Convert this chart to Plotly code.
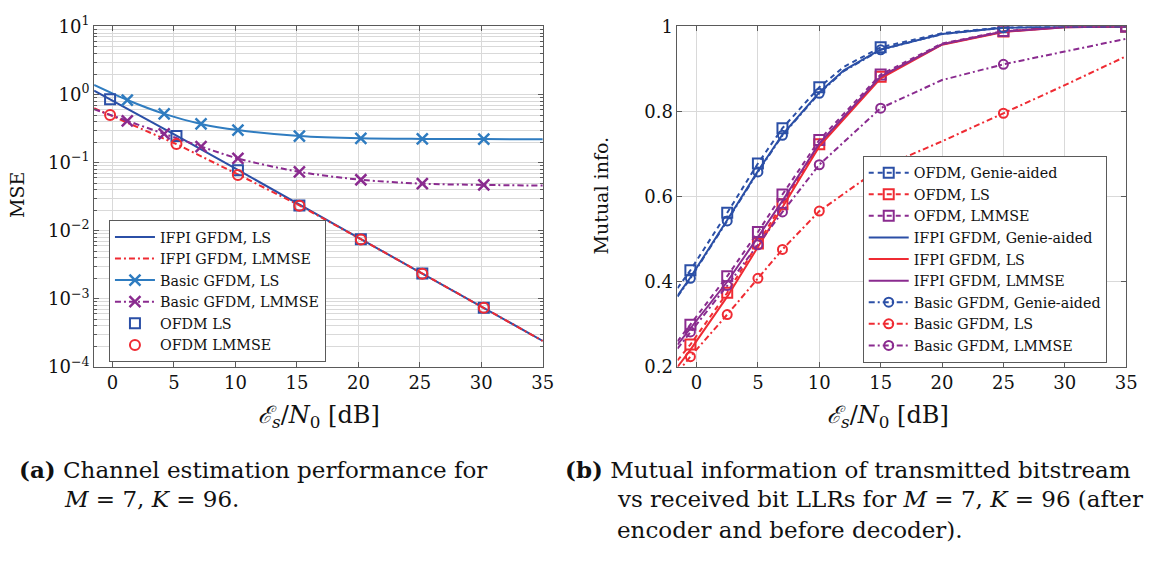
import plotly.graph_objects as go

W, H = 1157, 561
FONT = "DejaVu Serif"

BLUE = "#2b4fa6"
LBLUE = "#2f7cc0"
RED = "#ef2b33"
PURPLE = "#8a2b8f"
GRID = "#d9d9d9"
FRAME = "#5a5a5a"

DASH = "5px,4px"
DASHDOT = "6px,3px,2px,3px"

# ---------------- (a) channel estimation MSE ----------------
snr_a_ifpi = [-1.5, -0.2, 5.2, 10.2, 15.2, 20.2, 25.2, 30.2, 35]
mse_ifpi_ls = [1.14, 0.85, 0.25, 0.078, 0.024, 0.0075, 0.00235, 0.00074, 0.00024]
mse_ifpi_lmmse = [0.63, 0.50, 0.187, 0.067, 0.0235, 0.0075, 0.00235, 0.00074, 0.00024]

snr_a_basic = [-1.5, 1.2, 4.2, 7.2, 10.2, 15.2, 20.2, 25.2, 30.2, 35]
mse_basic_ls = [1.38, 0.83, 0.52, 0.37, 0.30, 0.245, 0.227, 0.223, 0.222, 0.22]
mse_basic_lmmse = [0.61, 0.41, 0.265, 0.172, 0.115, 0.073, 0.056, 0.049, 0.047, 0.046]
marks_a_basic = [1.2, 4.2, 7.2, 10.2, 15.2, 20.2, 25.2, 30.2]

snr_a_ofdm = [-0.2, 5.2, 10.2, 15.2, 20.2, 25.2, 30.2]
mse_ofdm_ls = [0.85, 0.245, 0.077, 0.0235, 0.0075, 0.00235, 0.00074]
mse_ofdm_lmmse = [0.50, 0.187, 0.066, 0.0232, 0.0074, 0.00234, 0.00074]

mse_ticks = [1e-4, 1e-3, 1e-2, 1e-1, 1, 10]
mse_ticktext = ["10<sup>−4</sup>", "10<sup>−3</sup>", "10<sup>−2</sup>",
                "10<sup>−1</sup>", "10<sup>0</sup>", "10<sup>1</sup>"]
snr_ticks = [0, 5, 10, 15, 20, 25, 30, 35]

# ---------------- (b) mutual information ----------------
snr_b = [-1.55, -0.5, 2.5, 5, 7, 10, 15, 20, 25, 30, 35]
snr_b_genie = [-1.55, -0.5, 2.5, 5, 7, 10, 12, 15, 20, 25, 30, 35]
marks_b_ofdm = [-0.5, 2.5, 5, 7, 10, 15, 25, 35]
marks_b_basic = [-0.5, 2.5, 5, 7, 10, 15, 25]

mi_ofdm_genie = [0.385, 0.427, 0.562, 0.678, 0.761, 0.857, 0.905, 0.951, 0.984, 0.998, 1.0, 1.0]
mi_ifpi_genie = [0.367, 0.41, 0.545, 0.66, 0.746, 0.845, 0.897, 0.946, 0.982, 0.997, 1.0, 1.0]
mi_basic_genie = [0.365, 0.408, 0.543, 0.658, 0.744, 0.843, 0.895, 0.945, 0.982, 0.997, 1.0, 1.0]

mi_ofdm_ls = [0.215, 0.2525, 0.374, 0.49, 0.582, 0.723, 0.882, 0.958, 0.988, 0.999, 1.0]
mi_ofdm_lmmse = [0.26, 0.299, 0.413, 0.517, 0.605, 0.733, 0.887, 0.960, 0.989, 0.999, 1.0]
mi_ifpi_ls = [0.20, 0.24, 0.365, 0.48, 0.575, 0.718, 0.878, 0.957, 0.987, 0.998, 1.0]
mi_ifpi_lmmse = [0.252, 0.29, 0.40, 0.505, 0.59, 0.725, 0.882, 0.958, 0.988, 0.998, 1.0]
mi_basic_ls = [0.187, 0.224, 0.323, 0.408, 0.476, 0.566, 0.668, 0.73, 0.796, 0.862, 0.93]
mi_basic_lmmse = [0.243, 0.282, 0.391, 0.487, 0.564, 0.675, 0.808, 0.874, 0.911, 0.941, 0.971]

mi_ticks = [0.2, 0.4, 0.6, 0.8, 1.0]

fig = go.Figure()


def pick(xs, ys, keep):
    pts = [(x, y) for x, y in zip(xs, ys) if x in keep]
    return [p[0] for p in pts], [p[1] for p in pts]


def series(x, y, name, color, dash, symbol, legend, xa, ya,
           marks=None, msize=10, mlw=2, spline=False):
    """Curve drawn as a line trace plus a marker trace on the marked points,
    with a separate entry for the legend."""
    line = dict(color=color, width=2, dash=dash)
    if dash is not None or symbol is None:
        fig.add_trace(go.Scatter(
            x=x, y=y, mode="lines", line=dict(line, shape="spline" if spline else "linear",
                                              smoothing=0.8),
            xaxis=xa, yaxis=ya, showlegend=False, hoverinfo="skip"))
    marker = None
    if symbol is not None:
        marker = dict(symbol=symbol, size=msize, color=color,
                      line=dict(color=color, width=mlw))
        mx, my = (x, y) if marks is None else pick(x, y, marks)
        fig.add_trace(go.Scatter(
            x=mx, y=my, mode="markers", marker=marker,
            xaxis=xa, yaxis=ya, showlegend=False, hoverinfo="skip"))
    if dash is None and symbol is not None:
        mode = "markers"
    elif symbol is None:
        mode = "lines"
    else:
        mode = "lines+markers"
    fig.add_trace(go.Scatter(
        x=[None], y=[None], mode=mode, name=name, line=line, marker=marker,
        legend=legend, xaxis=xa, yaxis=ya))


# (a)
series(snr_a_ifpi, mse_ifpi_ls, "IFPI GFDM, LS", BLUE, "solid", None, "legend", "x", "y")
series(snr_a_ifpi, mse_ifpi_lmmse, "IFPI GFDM, LMMSE", RED, DASHDOT, None, "legend", "x", "y")
series(snr_a_basic, mse_basic_ls, "Basic GFDM, LS", LBLUE, "solid", "x-thin-open", "legend",
       "x", "y", marks=marks_a_basic, msize=11, mlw=2.5, spline=True)
series(snr_a_basic, mse_basic_lmmse, "Basic GFDM, LMMSE", PURPLE, DASHDOT, "x-thin-open", "legend",
       "x", "y", marks=marks_a_basic, msize=11, mlw=2.5, spline=True)
series(snr_a_ofdm, mse_ofdm_ls, "OFDM LS", BLUE, None, "square-open", "legend", "x", "y", msize=10)
series(snr_a_ofdm, mse_ofdm_lmmse, "OFDM LMMSE", RED, None, "circle-open", "legend", "x", "y", msize=10)

# (b)
series(snr_b_genie, mi_ofdm_genie, "OFDM, Genie-aided", BLUE, DASH, "square-open", "legend2",
       "x2", "y2", marks=marks_b_ofdm)
series(snr_b, mi_ofdm_ls, "OFDM, LS", RED, DASH, "square-open", "legend2",
       "x2", "y2", marks=marks_b_ofdm)
series(snr_b, mi_ofdm_lmmse, "OFDM, LMMSE", PURPLE, DASH, "square-open", "legend2",
       "x2", "y2", marks=marks_b_ofdm)
series(snr_b_genie, mi_ifpi_genie, "IFPI GFDM, Genie-aided", BLUE, "solid", None, "legend2", "x2", "y2")
series(snr_b, mi_ifpi_ls, "IFPI GFDM, LS", RED, "solid", None, "legend2", "x2", "y2")
series(snr_b, mi_ifpi_lmmse, "IFPI GFDM, LMMSE", PURPLE, "solid", None, "legend2", "x2", "y2")
series(snr_b_genie, mi_basic_genie, "Basic GFDM, Genie-aided", BLUE, DASHDOT, "circle-open", "legend2",
       "x2", "y2", marks=marks_b_basic, msize=9)
series(snr_b, mi_basic_ls, "Basic GFDM, LS", RED, DASHDOT, "circle-open", "legend2",
       "x2", "y2", marks=marks_b_basic, msize=9)
series(snr_b, mi_basic_lmmse, "Basic GFDM, LMMSE", PURPLE, DASHDOT, "circle-open", "legend2",
       "x2", "y2", marks=marks_b_basic, msize=9)

# plot-area geometry (pixels)
LEFT_A, RIGHT_A = 95, 548
LEFT_B, RIGHT_B = 684, 1137
TOP, BOTTOM = 14, 369
ydom = [(H - BOTTOM) / H, (H - TOP) / H]

tickfont = dict(family=FONT, size=18, color="#111")
common = dict(ticks="inside", ticklen=5, tickcolor=FRAME, mirror="allticks",
              showline=True, linecolor=FRAME, linewidth=1,
              showgrid=True, gridcolor=GRID, gridwidth=1, zeroline=False,
              tickfont=tickfont)

minor_mse = [k * 10.0 ** d for d in range(-4, 1) for k in range(2, 10)]

legend_style = dict(xanchor="left", yanchor="top",
                    bgcolor="white", bordercolor=FRAME, borderwidth=1,
                    font=dict(family=FONT, size=14.3, color="#111"),
                    itemwidth=40, tracegroupgap=0, traceorder="normal")

fig.update_layout(
    width=W, height=H, autosize=False,
    margin=dict(l=0, r=0, t=0, b=0),
    paper_bgcolor="white", plot_bgcolor="white",
    font=dict(family=FONT, color="#111"),
    xaxis=dict(domain=[LEFT_A / W, RIGHT_A / W], anchor="y", range=[-1.5, 35],
               tickvals=snr_ticks, **common),
    yaxis=dict(domain=ydom, anchor="x", type="log", range=[-4, 1],
               tickvals=mse_ticks, ticktext=mse_ticktext,
               minor=dict(tickvals=minor_mse, showgrid=True, gridcolor=GRID,
                          ticks="inside", ticklen=3, tickcolor=FRAME),
               **common),
    xaxis2=dict(domain=[LEFT_B / W, RIGHT_B / W], anchor="y2", range=[-1.55, 35],
                tickvals=snr_ticks, **common),
    yaxis2=dict(domain=ydom, anchor="x2", range=[0.2, 1.0],
                tickvals=mi_ticks, ticktext=["0.2", "0.4", "0.6", "0.8", "1"], **common),
    legend=dict(x=110 / W, y=1 - 216 / H, **legend_style),
    legend2=dict(x=871 / W, y=1 - 149 / H, **legend_style),
    showlegend=True,
)

xlabel = "<i>ℰ<sub>s</sub></i>/<i>N</i><sub>0</sub> [dB]"
annotations = [
    dict(text="MSE", x=17 / W, y=1 - 190 / H, textangle=-90, font=dict(size=19)),
    dict(text="Mutual info.", x=607 / W, y=1 - 190 / H, textangle=-90, font=dict(size=19)),
    dict(text=xlabel, x=322 / W, y=1 - 421 / H, font=dict(size=24)),
    dict(text=xlabel, x=897 / W, y=1 - 421 / H, font=dict(size=24)),
]
caption_font = dict(size=23)
captions = [
    ("<b>(a)</b> Channel estimation performance for", 17, 476),
    ("<i>M</i> = 7, <i>K</i> = 96.", 63, 507),
    ("<b>(b)</b> Mutual information of transmitted bitstream", 568, 476),
    ("vs received bit LLRs for <i>M</i> = 7, <i>K</i> = 96 (after", 621, 507),
    ("encoder and before decoder).", 621, 539),
]
for text, px, py in captions:
    annotations.append(dict(text=text, x=px / W, y=1 - py / H, xanchor="left",
                            font=caption_font))

for a in annotations:
    a.setdefault("xanchor", "center")
    a.update(xref="paper", yref="paper", yanchor="middle", showarrow=False)
    a["font"] = dict(family=FONT, color="#111", **a["font"])
fig.update_layout(annotations=annotations)

fig.write_html("out.html")
